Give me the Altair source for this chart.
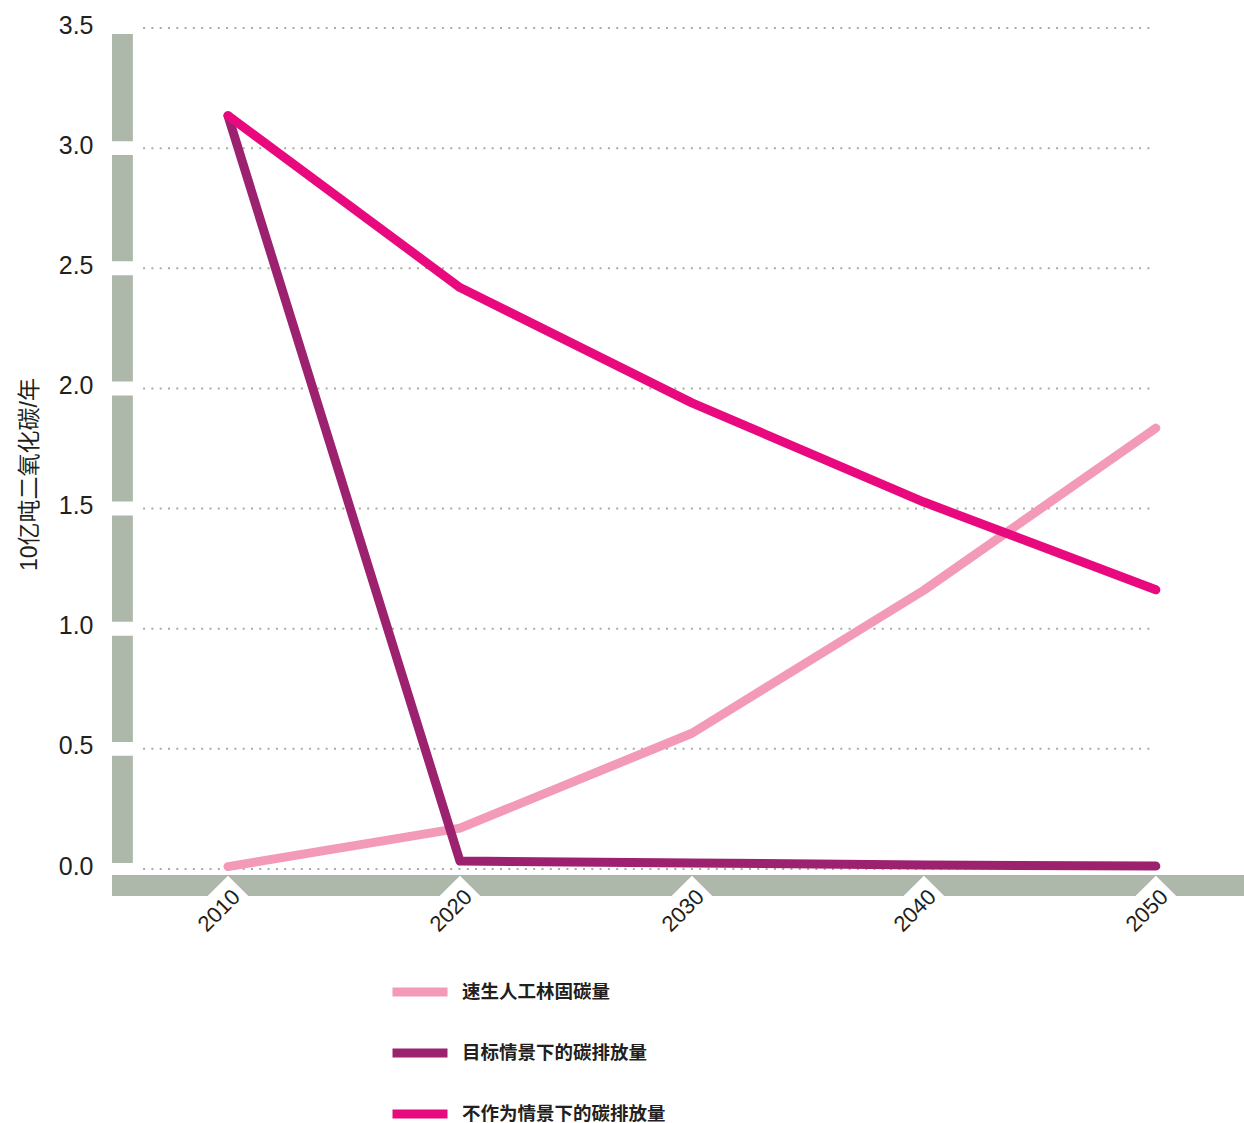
import altair as alt
import pandas as pd

# ---- data ----
years = [2010, 2020, 2030, 2040, 2050]
series_names = ["速生人工林固碳量", "目标情景下的碳排放量", "不作为情景下的碳排放量"]
plantation_sink = [0.01, 0.17, 0.565, 1.16, 1.835]
target_emissions = [3.135, 0.033, 0.025, 0.017, 0.012]
inaction_emissions = [3.135, 2.42, 1.94, 1.527, 1.162]
series_colors = ["#f49ab9", "#9c2270", "#e8097f"]
y_ticks = [0.0, 0.5, 1.0, 1.5, 2.0, 2.5, 3.0, 3.5]
y_title = "10亿吨二氧化碳/年"

FONT = "Liberation Sans, Arial, Noto Sans CJK SC"
GREY = "#adb8aa"
TEXT = "#231f20"

rows = []
for name, vals in zip(series_names, [plantation_sink, target_emissions, inaction_emissions]):
    for yr, v in zip(years, vals):
        rows.append({"year": yr, "value": v, "series": name})
df = pd.DataFrame(rows)

X_DOMAIN = [2005.0, 2053.8]
Y_DOMAIN = [0.0, 3.5]
xs = alt.Scale(domain=X_DOMAIN, nice=False, zero=False)
ys = alt.Scale(domain=Y_DOMAIN, nice=False, zero=False)

xaxis = alt.Axis(values=years, format="d", labelAngle=-45, labelAlign="right",
                 labelBaseline="middle", labelPadding=24, labelOffset=8,
                 domain=False, ticks=False, grid=False, title=None,
                 labelFont=FONT, labelFontSize=22, labelColor=TEXT, zindex=2)
yaxis = alt.Axis(values=y_ticks, format=".1f", labelPadding=19, labelOffset=-3,
                 domain=False, ticks=False, grid=False, title=y_title,
                 labelFont=FONT, labelFontSize=25, labelColor=TEXT,
                 titleFont=FONT, titleFontSize=23, titleFontWeight="normal",
                 titleColor=TEXT, titleX=-83, titleY=446, titleAlign="center",
                 titleBaseline="middle", titleAngle=270)


def X(field):
    return alt.X(field, scale=xs, axis=xaxis)


def Y(field):
    return alt.Y(field, scale=ys, axis=yaxis, stack=None)


# decoration: segmented vertical bar on the left
gap = 0.029
seg_rows = []
bounds = [0.025] + [t for t in y_ticks[1:-1]] + [3.475]
for i in range(len(bounds) - 1):
    lo = bounds[i] + (gap if i > 0 else 0)
    hi = bounds[i + 1] - (gap if i + 1 < len(bounds) - 1 else 0)
    seg_rows.append({"x": 2005.0, "x2": 2005.9, "y": lo, "y2": hi})
vbar = alt.Chart(pd.DataFrame(seg_rows)).mark_rect(color=GREY).encode(
    x=X("x:Q"), x2="x2:Q", y=Y("y:Q"), y2="y2:Q")

# bottom horizontal bar
hbar = alt.Chart(pd.DataFrame([{"x": 2005.0, "x2": 2053.8, "y": -0.025, "y2": -0.1124}])).mark_rect(
    color=GREY).encode(x=X("x:Q"), x2="x2:Q", y=Y("y:Q"), y2="y2:Q")

# white notches under each year
notch_rows = []
hw = 0.88
for yr in years:
    notch_rows += [
        {"yr": yr, "x": yr - hw, "y": -0.1124, "y2": -0.1124},
        {"yr": yr, "x": yr, "y": -0.028, "y2": -0.1124},
        {"yr": yr, "x": yr + hw, "y": -0.1124, "y2": -0.1124},
    ]
notches = alt.Chart(pd.DataFrame(notch_rows)).mark_area(
    color="white", fill="white", opacity=1, fillOpacity=1, orient="vertical").encode(
    x=X("x:Q"), y=Y("y:Q"), y2="y2:Q", detail="yr:N")

# dotted grid lines
grid = alt.Chart(pd.DataFrame({"y": y_ticks, "x": 2006.34, "x2": 2049.85})).mark_rule(
    color="#a3b09e", strokeWidth=2, strokeDash=[2, 6.3]).encode(
    x=X("x:Q"), x2="x2:Q", y=Y("y:Q"))

# data lines, layered in drawing order
color_scale = alt.Scale(domain=series_names, range=series_colors)
legend = alt.Legend(title=None, orient="none", legendX=276, legendY=932,
                    direction="vertical", symbolType="stroke",
                    symbolSize=3025, symbolStrokeWidth=9,
                    labelFont=FONT, labelFontSize=18.5, labelLimit=400,
                    labelFontWeight="bold", labelColor=TEXT,
                    labelOffset=10, rowPadding=11, values=series_names)
line_layers = []
for i, name in enumerate(series_names):
    line_layers.append(
        alt.Chart(df).transform_filter(alt.datum.series == name).mark_line(
            strokeWidth=9, strokeCap="round", strokeJoin="round").encode(
            x=X("year:Q"), y=Y("value:Q"),
            color=alt.Color("series:N", scale=color_scale, legend=legend)))

chart = alt.layer(vbar, hbar, notches, grid, *line_layers).properties(
    width=1132, height=841,
    background="white",
    autosize=alt.AutoSizeParams(type="none"),
    padding={"left": 112, "top": 28, "right": 0, "bottom": 254},
).configure_view(strokeWidth=0, strokeOpacity=0).configure_axis(
    domain=False, grid=False, ticks=False
)

chart.save("out.html", embed_options={"renderer": "svg", "actions": False})
